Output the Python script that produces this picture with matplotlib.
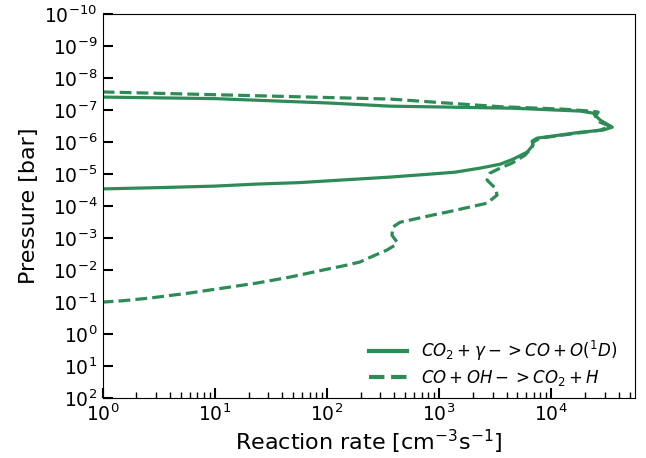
import numpy as np
import matplotlib
matplotlib.use('Agg')
from matplotlib import pyplot as plt
from matplotlib.ticker import LogLocator, NullLocator

# Reaction rate profiles (cm^-3 s^-1) against pressure (bar)
rate_photo = [1.0, 10, 23.7, 106, 365, 1250, 4580, 18200, 23700, 27400,
              35100, 29100, 18200, 12000, 7500, 6760, 6900, 6110, 4580,
              3510, 2320, 1390, 832, 365, 131, 57.4, 23.7, 10, 3.23, 1.0]
p_photo = [3.9e-8, 4.36e-8, 4.9e-8, 6.0e-8, 7.5e-8, 8.05e-8, 8.7e-8,
           1.07e-7, 1.24e-7, 2.05e-7, 3.4e-7, 4.2e-7, 4.9e-7, 6.0e-7,
           7.5e-7, 9.3e-7, 1.24e-6, 2.05e-6, 3.4e-6, 4.9e-6, 6.5e-6,
           8.7e-6, 1.0e-5, 1.24e-5, 1.54e-5, 1.84e-5, 2.05e-5, 2.37e-5,
           2.64e-5, 2.9e-5]

rate_oh = [1.0, 20.5, 365, 1180, 3510, 12800, 22300, 26300, 24700, 27400,
           33600, 27400, 14800, 7980, 6900, 6760, 5860, 4490, 3510, 2850,
           2680, 3160, 3300, 2680, 1180, 960, 449, 388, 380, 422, 405, 343,
           258, 197, 145, 92, 46.7, 23.7, 6.0, 2.63, 1.51, 1.0]
p_oh = [2.7e-8, 3.5e-8, 4.5e-8, 6.0e-8, 7.8e-8, 9.3e-8, 1.07e-7, 1.15e-7,
        1.54e-7, 2.4e-7, 3.2e-7, 4.2e-7, 5.6e-7, 7.5e-7, 1.0e-6, 1.43e-6,
        2.55e-6, 4.5e-6, 6.5e-6, 9.3e-6, 1.54e-5, 2.7e-5, 4.5e-5, 8.1e-5,
        1.54e-4, 1.78e-4, 3.2e-4, 4.5e-4, 8.1e-4, 1.33e-3, 1.66e-3, 2.37e-3,
        3.65e-3, 5.6e-3, 7.2e-3, 1.0e-2, 1.66e-2, 2.55e-2, 5.2e-2, 7.5e-2,
        9.1e-2, 0.1]

labels = [r'$CO_2 + \gamma - > CO + O(^1D)$', r'$CO + OH - > CO_2 + H$']
color = 'seagreen'

fig = plt.figure(figsize=(6.46, 4.58), dpi=100)
ax = fig.add_axes([0.159, 0.131, 0.824, 0.838])

ax.plot(rate_photo, p_photo, color=color, lw=2.3, ls='-', label=labels[0])
ax.plot(rate_oh, p_oh, color=color, lw=2.3, ls='--', label=labels[1])

ax.set_xscale('log')
ax.set_yscale('log')
ax.set_xlim(1, 5.6e4)
ax.set_ylim(1e2, 1e-10)

ax.yaxis.set_major_locator(LogLocator(base=10, numticks=20))
ax.yaxis.set_minor_locator(NullLocator())
ax.xaxis.set_major_locator(LogLocator(base=10, numticks=20))
ax.xaxis.set_minor_locator(LogLocator(base=10, subs=np.arange(2, 10), numticks=20))

ax.tick_params(which='major', direction='in', length=7, width=1.5,
               labelsize=13.5, pad=4)
ax.tick_params(which='minor', direction='in', length=4, width=1)

ax.set_xlabel(r'Reaction rate [cm$^{-3}$s$^{-1}$]', fontsize=16, labelpad=2)
ax.set_ylabel('Pressure [bar]', fontsize=16)

leg = ax.legend(loc='lower right', bbox_to_anchor=(0.985, 0.0), frameon=False,
                fontsize=12, labelspacing=0.3, handlelength=2.3,
                borderaxespad=0.2)
for line in leg.get_lines():
    line.set_linewidth(3)

fig.savefig('out.png', dpi=100)
